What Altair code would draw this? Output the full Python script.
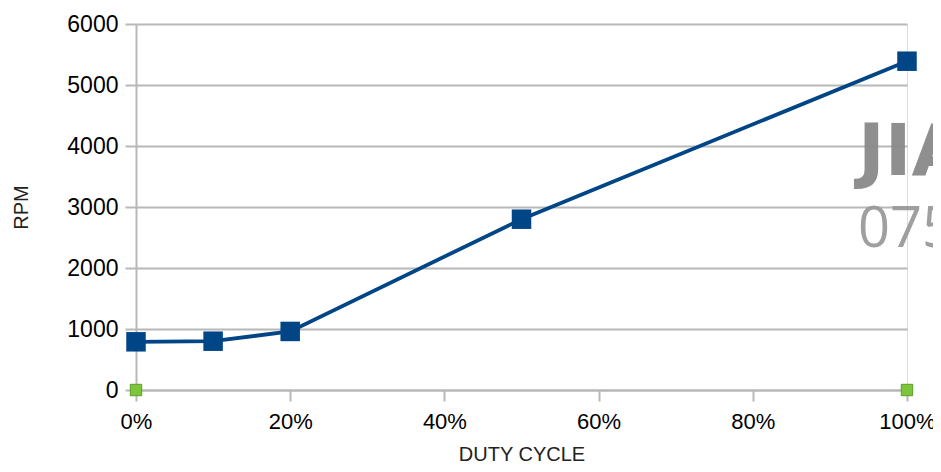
import altair as alt
import pandas as pd

duty = [0.0, 0.10, 0.20, 0.50, 1.00]
rpm = [790, 800, 960, 2800, 5390]

zero_duty = [0.0, 1.0]
zero_rpm = [0, 0]

x_ticks = [0, 0.2, 0.4, 0.6, 0.8, 1.0]
y_ticks = [0, 1000, 2000, 3000, 4000, 5000, 6000]

main = pd.DataFrame({"duty": duty, "rpm": rpm})
zero = pd.DataFrame({"duty": zero_duty, "rpm": zero_rpm})

GRID = "#b8b8b8"
FONT = "Liberation Sans"

xenc = alt.X(
    "duty:Q",
    scale=alt.Scale(domain=[0, 1], nice=False),
    axis=alt.Axis(
        values=x_ticks, format=".0%", title="DUTY CYCLE", grid=False,
        labelFlush=False, labelOverlap=False,
        tickColor=GRID, tickWidth=2, tickSize=11, domainColor=GRID, domainWidth=2,
        labelFont=FONT, labelFontSize=22, labelColor="#000", labelPadding=10,
        titleFont=FONT, titleFontSize=20, titleFontWeight="normal", titleColor="#222",
        titlePadding=12,
    ),
)
yenc = alt.Y(
    "rpm:Q",
    scale=alt.Scale(domain=[0, 6000], nice=False),
    axis=alt.Axis(
        values=y_ticks, format="d", title="RPM", grid=True, gridColor=GRID, gridWidth=2,
        tickColor=GRID, tickWidth=2, tickSize=11, domainColor=GRID, domainWidth=2,
        labelFont=FONT, labelFontSize=23, labelColor="#000", labelPadding=7,
        titleFont=FONT, titleFontSize=20, titleFontWeight="normal", titleColor="#222",
        titlePadding=35,
    ),
)

line = alt.Chart(main).mark_line(color="#004586", strokeWidth=3.8).encode(x=xenc, y=yenc)
pts = alt.Chart(main).mark_point(
    shape="square", filled=True, size=380, color="#004586", opacity=1
).encode(x="duty:Q", y="rpm:Q")
zpts = alt.Chart(zero).mark_point(
    shape="square", filled=True, size=130, fill="#7dc53a", stroke="#5e9e22",
    strokeWidth=1, opacity=1
).encode(x="duty:Q", y="rpm:Q")

wm1 = alt.Chart(pd.DataFrame({"t": ["JIA"]})).mark_text(
    font="DejaVu Sans", fontSize=72, fontWeight="bold", color="#8a8a8a",
    align="left", baseline="alphabetic", opacity=0.95
).encode(text="t:N", x=alt.value(722), y=alt.value(151))
wm2 = alt.Chart(pd.DataFrame({"t": ["075"]})).mark_text(
    font="Open Sans", fontSize=56, color="#9a9a9a",
    align="left", baseline="alphabetic", opacity=0.95
).encode(text="t:N", x=alt.value(722), y=alt.value(223))

chart = alt.layer(line, zpts, pts, wm1, wm2).properties(
    width=771, height=366,
    autosize=alt.AutoSizeParams(type="none"),
    padding={"left": 128, "top": 16, "right": 26, "bottom": 82},
).configure_view(stroke=GRID, strokeWidth=2).configure(background="white")

chart.save("out.html", embed_options={"renderer": "svg", "actions": False})
